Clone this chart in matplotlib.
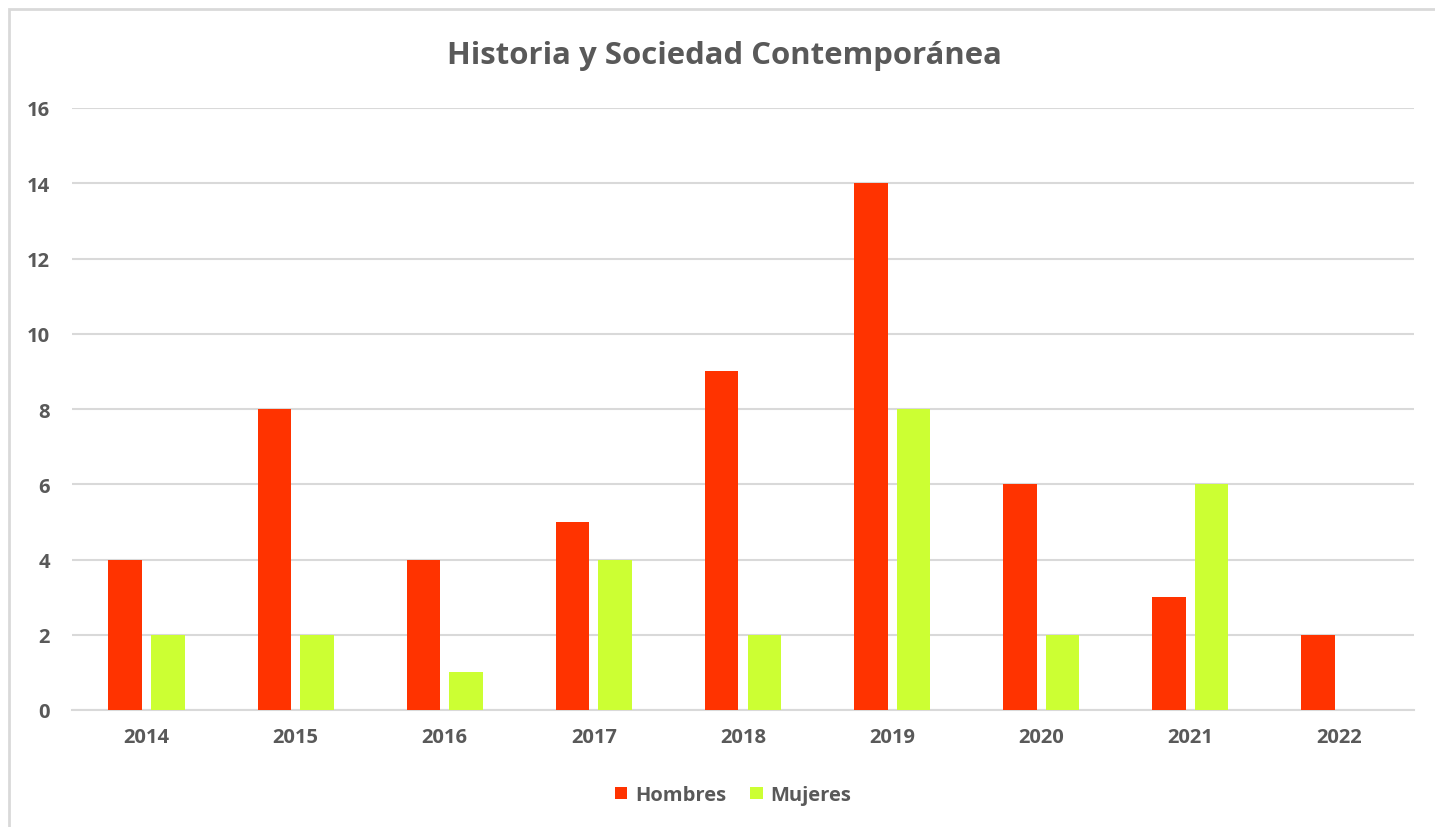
import matplotlib
matplotlib.use('Agg')
from matplotlib import pyplot as plt
from matplotlib.patches import Rectangle
import numpy as np

years = ['2014', '2015', '2016', '2017', '2018', '2019', '2020', '2021', '2022']
hombres = [4, 8, 4, 5, 9, 14, 6, 3, 2]
mujeres = [2, 2, 1, 4, 2, 8, 2, 6, 0]

plt.rcParams['font.family'] = ['Open Sans', 'DejaVu Sans']
grey = '#595959'

fig = plt.figure(figsize=(14.35, 8.28), dpi=100)
ax = fig.add_axes([72 / 1435, 117 / 828, (1414 - 72) / 1435, (719 - 117) / 828])

# outer chart frame
fig.patches.append(Rectangle((9 / 1435, -0.05), 1.1, (818 / 828) + 0.05,
                             transform=fig.transFigure, fill=False,
                             edgecolor='#D9D9D9', linewidth=2))

x = np.arange(len(years))
w = 0.225
ax.bar(x - 0.143, hombres, w, color='#FF3300', label='Hombres', zorder=3)
ax.bar(x + 0.143, mujeres, w, color='#CCFF33', label='Mujeres', zorder=3)

ax.set_xlim(-0.5, len(years) - 0.5)
ax.set_ylim(0, 16)
ax.set_yticks(range(0, 17, 2))
ax.set_xticks(x)
ax.set_xticklabels(years)
ax.grid(axis='y', color='#D9D9D9', linewidth=1.5, zorder=0)
for s in ['top', 'right', 'left']:
    ax.spines[s].set_visible(False)
ax.spines['bottom'].set_color('#D9D9D9')
ax.spines['bottom'].set_linewidth(1.5)
ax.tick_params(length=0, colors=grey, labelsize=14.5)
ax.tick_params(axis='x', pad=12)
ax.tick_params(axis='y', pad=16)
for t in ax.get_xticklabels() + ax.get_yticklabels():
    t.set_fontweight('bold')

fig.text(0.505, 772 / 828, 'Historia y Sociedad Contemporánea', ha='center', va='center',
         fontsize=22.4, fontweight='bold', color=grey)

leg = fig.legend(loc='center', bbox_to_anchor=(0.511, 32 / 828), ncol=2, frameon=False,
                 handlelength=0.6, handleheight=0.6, handletextpad=0.4, columnspacing=1.2,
                 prop={'size': 14.5, 'weight': 'bold'})
for t in leg.get_texts():
    t.set_color(grey)

fig.savefig('out.png', dpi=100)
